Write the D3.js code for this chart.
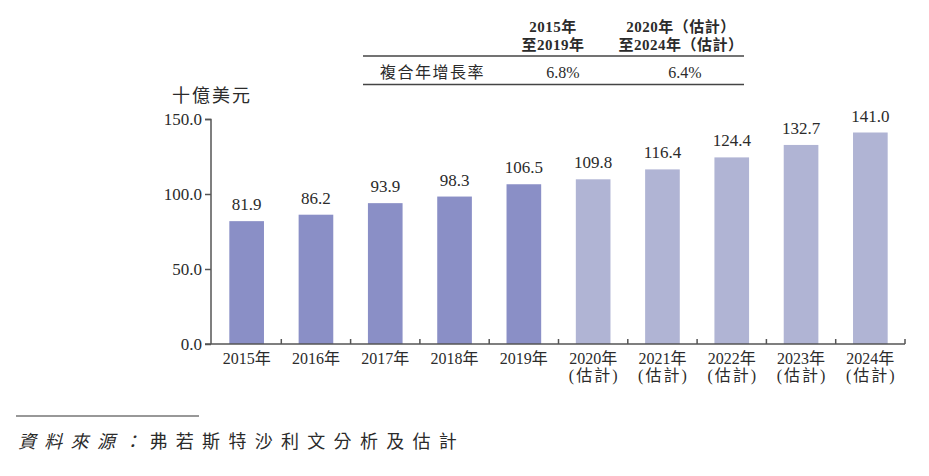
<!DOCTYPE html>
<html><head><meta charset="utf-8">
<script src="https://cdn.jsdelivr.net/npm/d3@7"></script>
<style>
body{margin:0;background:#fff;}
svg text{font-family:"Liberation Serif","Noto Sans CJK TC",serif;fill:#2b2b2b;}
</style></head>
<body><svg id="c" width="929" height="476"></svg>
<script>
const years = ["2015年","2016年","2017年","2018年","2019年","2020年","2021年","2022年","2023年","2024年"];
const subLabels = ["","","","","","(估計)","(估計)","(估計)","(估計)","(估計)"];
const values = [81.9,86.2,93.9,98.3,106.5,109.8,116.4,124.4,132.7,141.0];
const forecast = [false,false,false,false,false,true,true,true,true,true];
const yTicks = [0,50,100,150];
const cagrHeaders = [["2015年","至2019年"],["2020年（估計）","至2024年（估計）"]];
const cagrRowLabel = "複合年增長率";
const cagrValues = ["6.8%","6.4%"];
const unitLabel = "十億美元";
const sourceLabel = "資料來源：";
const sourceText = "弗若斯特沙利文分析及估計";

const svg = d3.select("#c");
const x = d3.scaleBand().domain(years).range([212,905]).paddingInner(0.5).paddingOuter(0.25);
const y = d3.scaleLinear().domain([0,150]).range([344,119]);
const colActual = "#8a8fc6", colFc = "#b0b4d4";

// bars
svg.selectAll("rect.bar").data(values).join("rect")
  .attr("x",(d,i)=>x(years[i])).attr("width",x.bandwidth())
  .attr("y",d=>y(d)).attr("height",d=>y(0)-y(d))
  .attr("fill",(d,i)=>forecast[i]?colFc:colActual);

svg.selectAll("text.val").data(values).join("text")
  .attr("x",(d,i)=>x(years[i])+x.bandwidth()/2).attr("y",d=>y(d)-11)
  .attr("text-anchor","middle").attr("font-size",17).text(d=>d.toFixed(1));

// y axis
const yAxis = d3.axisLeft(y).tickValues(yTicks).tickFormat(d3.format(".1f")).tickSize(6).tickPadding(3);
const gy = svg.append("g").attr("transform","translate(211,0)").call(yAxis);
gy.select(".domain").attr("stroke","#555").attr("stroke-width",1.5).attr("d","M-6,119.5H0V344");
gy.selectAll(".tick line").attr("stroke","#555").attr("stroke-width",1.5);
gy.selectAll(".tick text").attr("font-size",17).attr("fill","#2b2b2b").attr("dy","0.35em")
  .style("font-family",'"Liberation Serif",serif');

// x axis
const gx = svg.append("g").attr("transform","translate(0,344)");
gx.append("line").attr("x1",205).attr("x2",905).attr("y1",0).attr("y2",0).attr("stroke","#555").attr("stroke-width",1.5);
const step = x.step();
const bounds = years.map((d,i)=>x(d)+x.bandwidth()+ (step-x.bandwidth())/2);
gx.selectAll("line.t").data(bounds).join("line")
  .attr("x1",d=>d).attr("x2",d=>d).attr("y1",0).attr("y2",-5).attr("stroke","#555").attr("stroke-width",1.5);
const xl = gx.selectAll("text.xl").data(years).join("text")
  .attr("text-anchor","middle").attr("font-size",16)
  .attr("x",d=>x(d)+x.bandwidth()/2).attr("y",20);
xl.append("tspan").text(d=>d);
xl.append("tspan").attr("x",d=>x(d)+x.bandwidth()/2+1).attr("dy",17).attr("letter-spacing",2).text((d,i)=>subLabels[i]);

// unit
svg.append("text").attr("x",172).attr("y",102).attr("font-size",18).attr("letter-spacing",2).text(unitLabel);

// CAGR table
svg.append("line").attr("x1",363).attr("x2",744).attr("y1",56).attr("y2",56).attr("stroke","#444").attr("stroke-width",1.5);
svg.append("line").attr("x1",363).attr("x2",744).attr("y1",84.5).attr("y2",84.5).attr("stroke","#444").attr("stroke-width",1.5);
const colX = [553,681];
cagrHeaders.forEach((h,i)=>{
  h.forEach((t,j)=>{
    svg.append("text").attr("x",colX[i]).attr("y",32+j*17.5).attr("text-anchor","middle")
      .attr("font-size",15).attr("letter-spacing",0.5).attr("font-weight","bold").text(t);
  });
});
svg.append("text").attr("x",380).attr("y",78).attr("font-size",16).attr("letter-spacing",1.5).text(cagrRowLabel);
cagrValues.forEach((v,i)=>{
  svg.append("text").attr("x",[563,685][i]).attr("y",78).attr("text-anchor","middle").attr("font-size",16).text(v);
});

// source
svg.append("line").attr("x1",16).attr("x2",199).attr("y1",416).attr("y2",416).attr("stroke","#333").attr("stroke-width",1.2);
const src = svg.append("text").attr("x",18).attr("y",448).attr("font-size",18).attr("letter-spacing",8.3);
src.append("tspan").attr("font-style","italic").text(sourceLabel);
src.append("tspan").text(sourceText);
</script></body></html>
